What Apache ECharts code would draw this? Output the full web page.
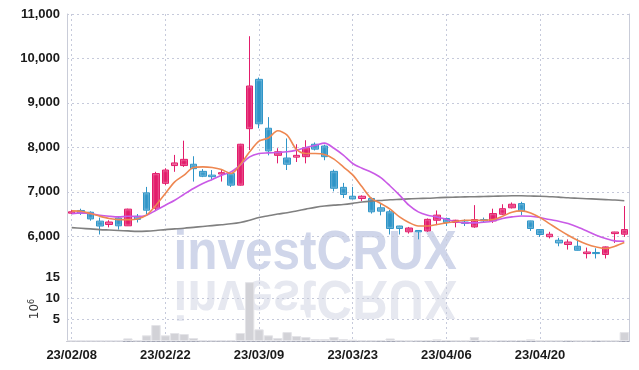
<!DOCTYPE html>
<html>
<head>
<meta charset="utf-8">
<script src="https://cdn.jsdelivr.net/npm/echarts@6/dist/echarts.min.js"></script>
<style>
html,body{margin:0;padding:0;background:#fff;}
#c{width:639px;height:370px;}
</style>
</head>
<body>
<div id="c"></div>
<script>
var dates = ['23/02/08','23/02/09','23/02/10','23/02/13','23/02/14','23/02/15','23/02/16','23/02/17','23/02/20','23/02/21',
'23/02/22','23/02/23','23/02/24','23/02/27','23/02/28','23/03/02','23/03/03','23/03/06','23/03/07','23/03/08',
'23/03/09','23/03/10','23/03/13','23/03/14','23/03/15','23/03/16','23/03/17','23/03/20','23/03/21','23/03/22',
'23/03/23','23/03/24','23/03/27','23/03/28','23/03/29','23/03/30','23/03/31','23/04/03','23/04/04','23/04/05',
'23/04/06','23/04/07','23/04/10','23/04/11','23/04/12','23/04/13','23/04/14','23/04/17','23/04/18','23/04/19',
'23/04/20','23/04/21','23/04/24','23/04/25','23/04/26','23/04/27','23/04/28','23/05/02','23/05/03','23/05/04'];

var opens  = [6520,6580,6540,6340,6265,6410,6235,6450,6976,6630,7190,7590,7590,7620,7460,7375,7400,7410,7150,8420,
              9530,8430,7820,7760,7780,7790,8070,8030,7460,7100,6900,6850,6850,6640,6550,6230,6100,6130,6120,6360,
              6400,6310,6320,6210,6375,6345,6495,6640,6735,6345,6150,5990,5910,5815,5775,5610,5635,5590,6060,6045];
var closes = [6550,6520,6390,6230,6320,6235,6610,6380,6586,7410,7490,7650,7730,7520,7350,7340,7430,7150,8070,9380,
              8530,7920,7900,7620,7820,7990,7960,7790,7080,6940,6840,6900,6550,6565,6175,6175,6185,6100,6380,6475,
              6310,6360,6290,6375,6345,6510,6620,6720,6570,6175,6040,6045,5850,5870,5685,5645,5610,5760,6095,6150];
var lows   = [6500,6480,6350,6040,6200,6150,6230,6310,6495,6580,7150,7450,7560,7230,7330,7260,7230,7110,7140,7940,
              8430,7820,7640,7490,7670,7640,7930,7710,7010,6860,6830,6790,6510,6470,6040,6040,6060,5930,6100,6250,
              6230,6200,6230,6190,6300,6300,6480,6625,6475,6120,5985,5950,5775,5700,5680,5500,5500,5500,5850,5985];
var highs  = [6590,6620,6560,6420,6360,6450,6620,6500,7110,7450,7530,7830,8150,7800,7510,7490,7490,7430,8080,10500,
              9570,8680,7980,8200,8070,8160,8110,8060,7500,7200,7110,6920,6870,6740,6590,6235,6210,6140,6400,6580,
              6420,6370,6380,6700,6420,6620,6720,6760,6775,6350,6160,6100,5965,5930,5950,5745,5730,5770,6100,6680];

var volumes = [0.05,0.05,0.05,0.05,0.05,0.05,0.62,0.15,1.33,3.75,1.33,1.87,1.64,0.7,0.15,0.15,0.15,0.15,1.87,13.8,
               2.73,1.33,0.7,2.1,1.17,0.94,0.47,0.47,0.94,0.47,0.3,0.15,0.15,0.2,0.6,0.15,0.1,0.15,0.2,0.4,
               0.2,0.1,0.1,0.94,0.1,0.1,0.15,0.15,0.2,0.4,0.1,0.1,0.1,0.2,0.1,0.1,0.2,0.1,0.1,2.1];

var maShort = [6570,6563,6510,6450,6400,6375,6375,6390,6474,6699,6962,7224,7374,7547,7561,7547,7502,7412,7610,7900,
               8140,8210,8372,8275,7953,7863,7863,7840,7735,7561,7380,7111,6850,6737,6609,6435,6310,6232,6232,6264,
               6300,6330,6360,6360,6360,6375,6450,6541,6570,6525,6420,6285,6150,6023,5910,5820,5760,5723,5775,5858];
var maMid   = [6510,6525,6510,6474,6450,6435,6450,6445,6474,6586,6699,6811,6946,7075,7187,7277,7374,7449,7600,7786,
               7863,7876,7885,7900,7937,7998,8043,8095,7980,7825,7637,7530,7440,7320,7130,6924,6699,6548,6474,6435,
               6383,6325,6300,6300,6316,6345,6400,6435,6457,6450,6420,6375,6338,6285,6210,6120,6023,5948,5895,5888];
var maLong  = [6195,6180,6165,6150,6140,6130,6120,6110,6115,6130,6150,6165,6180,6200,6220,6240,6260,6280,6310,6360,
               6420,6460,6500,6530,6570,6610,6650,6680,6700,6715,6740,6770,6790,6805,6820,6830,6840,6850,6855,6865,
               6875,6880,6885,6890,6895,6900,6905,6910,6910,6905,6900,6890,6880,6865,6855,6845,6835,6825,6815,6800];

var priceTicks = [5000, 11000, 1000];
var volumeTicks = [0, 15, 5];

var candleData = dates.map(function (d, i) { return [opens[i], closes[i], lows[i], highs[i]]; });

var gridColor = '#c6cadb';
var borderColor = '#c9ccd8';
var labelFont = {color: '#1a1a1a', fontSize: 13, fontWeight: 'bold', fontFamily: '"Liberation Sans", Arial, sans-serif'};

var chart = echarts.init(document.getElementById('c'), null, {renderer: 'canvas'});

var splitV = {show: true, interval: 9, alignWithLabel: true, lineStyle: {color: gridColor, type: [2, 3], width: 1}};

chart.setOption({
  animation: false,
  backgroundColor: '#fff',
  grid: [
    {left: 67, right: 10, top: 14, height: 266.7},
    {left: 67, right: 10, top: 277, height: 64}
  ],
  xAxis: [
    {type: 'category', gridIndex: 0, data: dates, boundaryGap: true,
     axisLine: {show: false}, axisTick: {show: false, interval: 9, alignWithLabel: true}, axisLabel: {show: false, interval: 9},
     splitLine: splitV},
    {type: 'category', gridIndex: 1, data: dates, boundaryGap: true,
     axisLine: {show: true, lineStyle: {color: borderColor}}, axisTick: {show: false, interval: 9, alignWithLabel: true},
     axisLabel: Object.assign({show: true, interval: 9, margin: 8}, labelFont),
     splitLine: splitV},
    {type: 'category', gridIndex: 1, data: dates, position: 'top', boundaryGap: true,
     axisLine: {show: true, lineStyle: {color: '#a3a6b4', type: [3, 2]}}, axisTick: {show: false}, axisLabel: {show: false}, splitLine: {show: false}}
  ],
  yAxis: [
    {type: 'value', gridIndex: 0, min: priceTicks[0], max: priceTicks[1], interval: priceTicks[2], position: 'left',
     axisLine: {show: true, lineStyle: {color: borderColor}}, axisTick: {show: false},
     axisLabel: Object.assign({showMinLabel: false, margin: 7, formatter: function (v) { return v.toLocaleString('en-US'); }}, labelFont),
     splitLine: {show: true, showMinLine: false, lineStyle: {color: gridColor, type: [2, 3]}}},
    {type: 'value', gridIndex: 0, min: priceTicks[0], max: priceTicks[1], interval: priceTicks[2], position: 'right',
     axisLine: {show: true, lineStyle: {color: borderColor}}, axisTick: {show: false}, axisLabel: {show: false}, splitLine: {show: false}},
    {type: 'value', gridIndex: 1, min: volumeTicks[0], max: volumeTicks[1], interval: volumeTicks[2], position: 'left',
     axisLine: {show: true, lineStyle: {color: borderColor}}, axisTick: {show: false},
     axisLabel: Object.assign({showMinLabel: false, margin: 7}, labelFont),
     splitLine: {show: true, showMinLine: false, showMaxLine: false, lineStyle: {color: gridColor, type: [2, 3]}},
     name: '{a|10}{b|6}', nameLocation: 'middle', nameGap: 25, nameRotate: 90, nameMoveOverlap: false,
     nameTextStyle: {color: '#333', fontFamily: 'DejaVu Sans, sans-serif',
       rich: {a: {fontSize: 12, color: '#333', fontFamily: 'DejaVu Sans, sans-serif'},
              b: {fontSize: 8, color: '#333', verticalAlign: 'top', padding: [0, 0, 6, 0], fontFamily: 'DejaVu Sans, sans-serif'}}}},
    {type: 'value', gridIndex: 1, min: volumeTicks[0], max: volumeTicks[1], position: 'right',
     axisLine: {show: true, lineStyle: {color: borderColor}}, axisTick: {show: false}, axisLabel: {show: false}, splitLine: {show: false}}
  ],
  graphic: [
    {type: 'text', x: 173.5, y: 253.5, scaleX: 0.9, z: -1, silent: true,
     style: {text: 'investCRUX', fill: '#d0d6ea', font: 'bold 55px "Liberation Sans", Arial, sans-serif', textVerticalAlign: 'middle', verticalAlign: 'middle'}},
    {type: 'text', x: 173.5, y: 253.5, scaleX: 0.9, scaleY: -1, originY: 21.5, z: -1, silent: true,
     style: {text: 'investCRUX', fill: '#e6e8f0', font: 'bold 55px "Liberation Sans", Arial, sans-serif', textVerticalAlign: 'middle', verticalAlign: 'middle'}}
  ],
  series: [
    {type: 'candlestick', name: 'price', xAxisIndex: 0, yAxisIndex: 0, data: candleData, barWidth: 7,
     itemStyle: {color: '#e31c6b', color0: '#2f95c8', borderColor: '#e31c6b', borderColor0: '#2f95c8', borderWidth: 1,
                 shadowColor: 'rgba(255,255,255,0.9)', shadowBlur: 2}},
    {type: 'line', name: 'maLong', xAxisIndex: 0, yAxisIndex: 0, data: maLong, smooth: 0.3, showSymbol: false,
     lineStyle: {color: '#808080', width: 1.6}, z: 3},
    {type: 'line', name: 'maMid', xAxisIndex: 0, yAxisIndex: 0, data: maMid, smooth: 0.3, showSymbol: false,
     lineStyle: {color: '#c95ae6', width: 1.6}, z: 3},
    {type: 'line', name: 'maShort', xAxisIndex: 0, yAxisIndex: 0, data: maShort, smooth: 0.3, showSymbol: false,
     lineStyle: {color: '#ee8751', width: 1.6}, z: 3},
    {type: 'bar', name: 'volume', xAxisIndex: 1, yAxisIndex: 2, data: volumes, barCategoryGap: '0%',
     itemStyle: {color: '#d2d2d7', borderColor: '#e4e4e8', borderWidth: 1}}
  ]
});
</script>
</body>
</html>
